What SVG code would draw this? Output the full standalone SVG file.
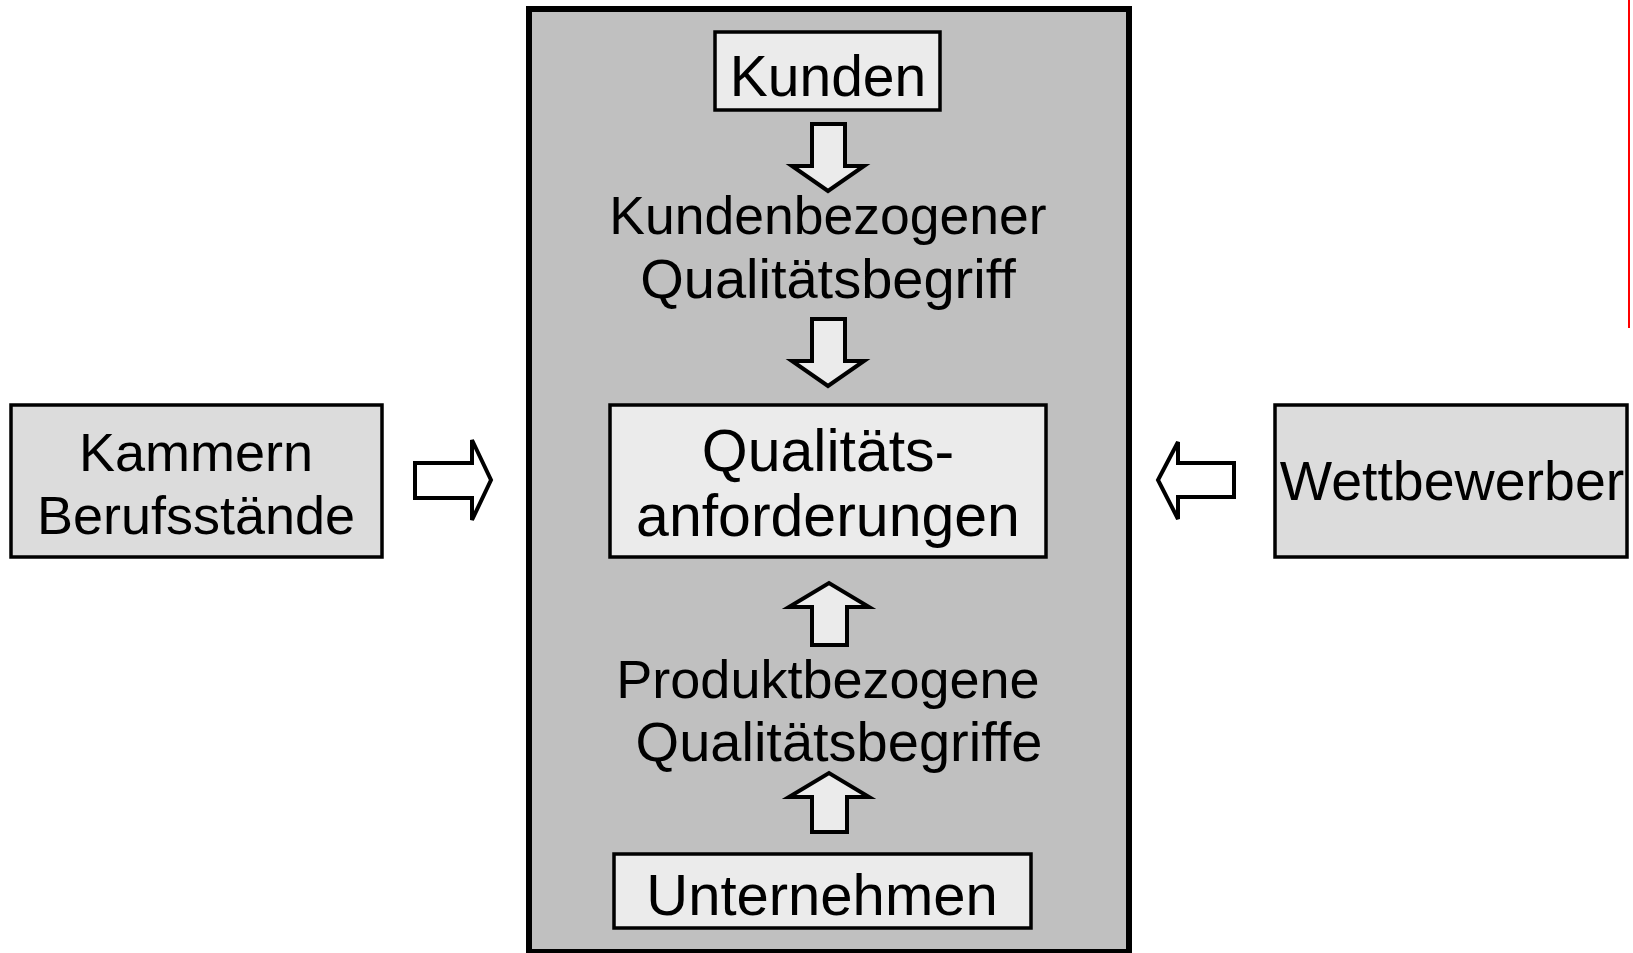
<svg xmlns="http://www.w3.org/2000/svg" width="1633" height="953" viewBox="0 0 1633 953">
<style>
.t{font-family:"Liberation Sans",Arial,sans-serif;fill:#000;text-anchor:middle}
.box{stroke:#000;stroke-width:3.5}
.arr{stroke:#000;stroke-width:4;stroke-linejoin:miter}
</style>
<rect width="1633" height="953" fill="#fff"/>
<line x1="1629" y1="0" x2="1629" y2="328" stroke="#ff0000" stroke-width="2"/>
<g id="frame">
<rect x="529" y="9" width="600" height="943" fill="#c0c0c0" stroke="#000" stroke-width="6"/>
</g>
<g id="kunden">
<rect class="box" x="715" y="32" width="225" height="78" fill="#ebebeb"/>
<text class="t" x="828" y="96" font-size="57">Kunden</text>
</g>
<g id="kundenbegriff">
<text class="t" x="828" y="234" font-size="53.5">Kundenbezogener</text>
<text class="t" x="828" y="298" font-size="56">Qualitätsbegriff</text>
</g>
<g id="anforderungen">
<rect class="box" x="610" y="405" width="436" height="152" fill="#ebebeb"/>
<text class="t" x="828" y="471" font-size="59">Qualitäts-</text>
<text class="t" x="828" y="536" font-size="59">anforderungen</text>
</g>
<g id="produktbegriff">
<text class="t" x="828" y="698" font-size="54">Produktbezogene</text>
<text class="t" x="839" y="761" font-size="56">Qualitätsbegriffe</text>
</g>
<g id="unternehmen">
<rect class="box" x="614" y="854" width="417" height="74" fill="#ebebeb"/>
<text class="t" x="822" y="915" font-size="58">Unternehmen</text>
</g>
<g id="kammern">
<rect class="box" x="11" y="405" width="371" height="152" fill="#dcdcdc"/>
<text class="t" x="196" y="471" font-size="54">Kammern</text>
<text class="t" x="196" y="534" font-size="54">Berufsstände</text>
</g>
<g id="wettbewerber">
<rect class="box" x="1275" y="405" width="352" height="152" fill="#dcdcdc"/>
<text class="t" x="1452" y="500" font-size="55.5">Wettbewerber</text>
</g>
<g id="connectors">
<path class="arr" fill="#ebebeb" d="M812,124 H845 V166 H864 L828,191 L792,166 H812 Z"/>
<path class="arr" fill="#ebebeb" d="M812,319 H845 V361 H864 L828,386 L792,361 H812 Z"/>
<path class="arr" fill="#ebebeb" d="M812,645 H847 V607 H869 L829,583 L789,607 H812 Z"/>
<path class="arr" fill="#ebebeb" d="M812,832 H847 V797 H869 L829,773 L789,797 H812 Z"/>
<path class="arr" fill="#fff" d="M415,463 H472 V440 L491,480 L472,520 V498 H415 Z"/>
<path class="arr" fill="#fff" d="M1234,463 H1178 V442 L1158,480 L1178,519 V497 H1234 Z"/>
</g>
</svg>
